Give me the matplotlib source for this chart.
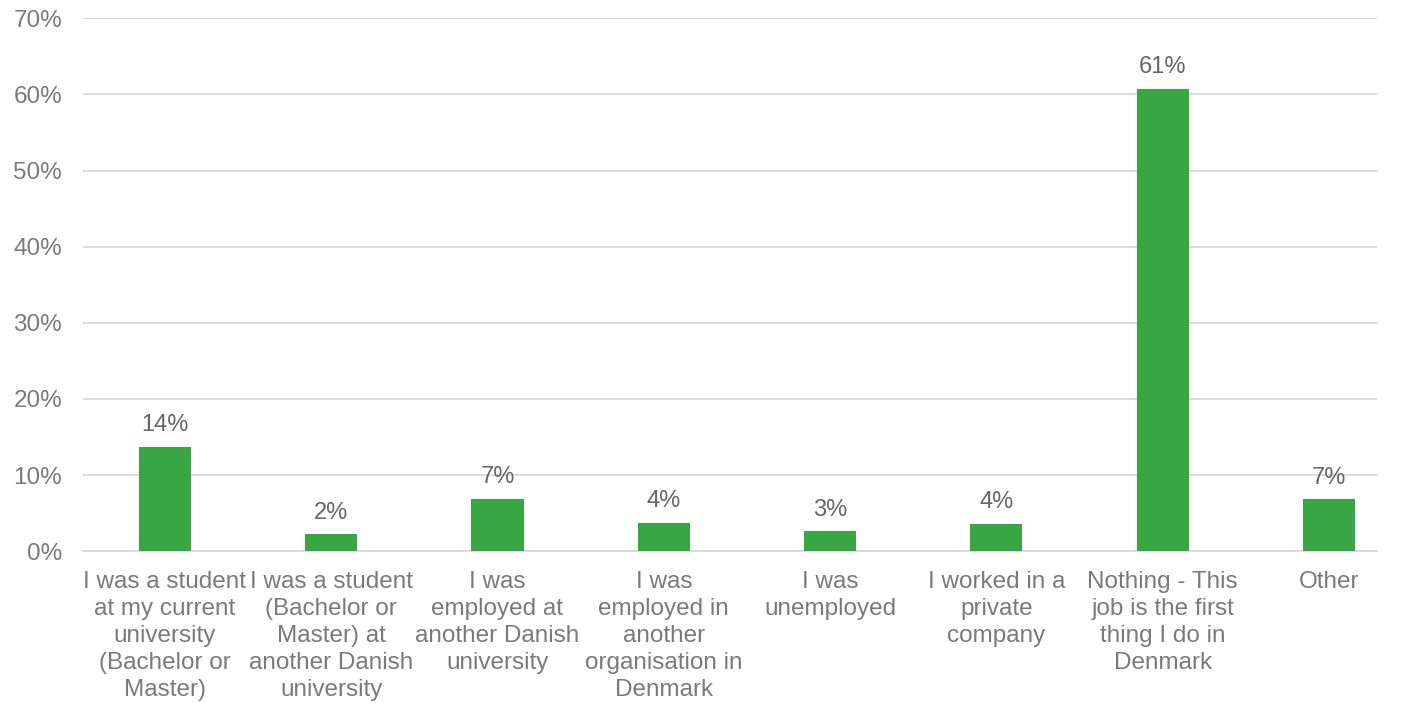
import matplotlib
matplotlib.use("Agg")
import matplotlib.pyplot as plt
from matplotlib.ticker import FuncFormatter

plt.rcParams['font.family'] = ['Liberation Sans', 'DejaVu Sans']

# Previous situation before the current job
categories = [
    "I was a student\nat my current\nuniversity\n(Bachelor or\nMaster)",
    "I was a student\n(Bachelor or\nMaster) at\nanother Danish\nuniversity",
    "I was\nemployed at\nanother Danish\nuniversity",
    "I was\nemployed in\nanother\norganisation in\nDenmark",
    "I was\nunemployed",
    "I worked in a\nprivate\ncompany",
    "Nothing - This\njob is the first\nthing I do in\nDenmark",
    "Other",
]
shares = [13.7, 2.2, 6.9, 3.7, 2.6, 3.6, 60.7, 6.8]
y_ticks = [0, 10, 20, 30, 40, 50, 60, 70]

bar_color = "#37A643"
text_color = "#7A7A7A"
grid_color = "#D9D9D9"

fig = plt.figure(figsize=(14.04, 7.03), dpi=100)
ax = fig.add_axes([0.059, 0.216, 0.922, 0.758])

x = range(len(categories))
bars = ax.bar(x, shares, width=0.313, color=bar_color, zorder=3)

for bar, v in zip(bars, shares):
    ax.text(bar.get_x() + bar.get_width() / 2, v + 1.4, f"{v:.0f}%",
            ha="center", va="bottom", fontsize=17, color="#666666")

ax.set_xlim(-0.493, 7.29)
ax.set_ylim(0, 70)
ax.set_yticks(y_ticks)
ax.yaxis.set_major_formatter(FuncFormatter(lambda v, _: f"{v:.0f}%"))
ax.set_xticks(list(x))
ax.set_xticklabels(categories, linespacing=1.3)

ax.tick_params(axis="both", length=0, labelsize=17.5, labelcolor=text_color)
ax.tick_params(axis="x", pad=14)
ax.tick_params(axis="y", pad=15)

ax.grid(axis="y", color=grid_color, linewidth=1.3, zorder=0)
for side in ["top", "right", "left"]:
    ax.spines[side].set_visible(False)
ax.spines["bottom"].set_color(grid_color)
ax.spines["bottom"].set_linewidth(1.3)

fig.savefig("out.png", dpi=100, facecolor="white")
